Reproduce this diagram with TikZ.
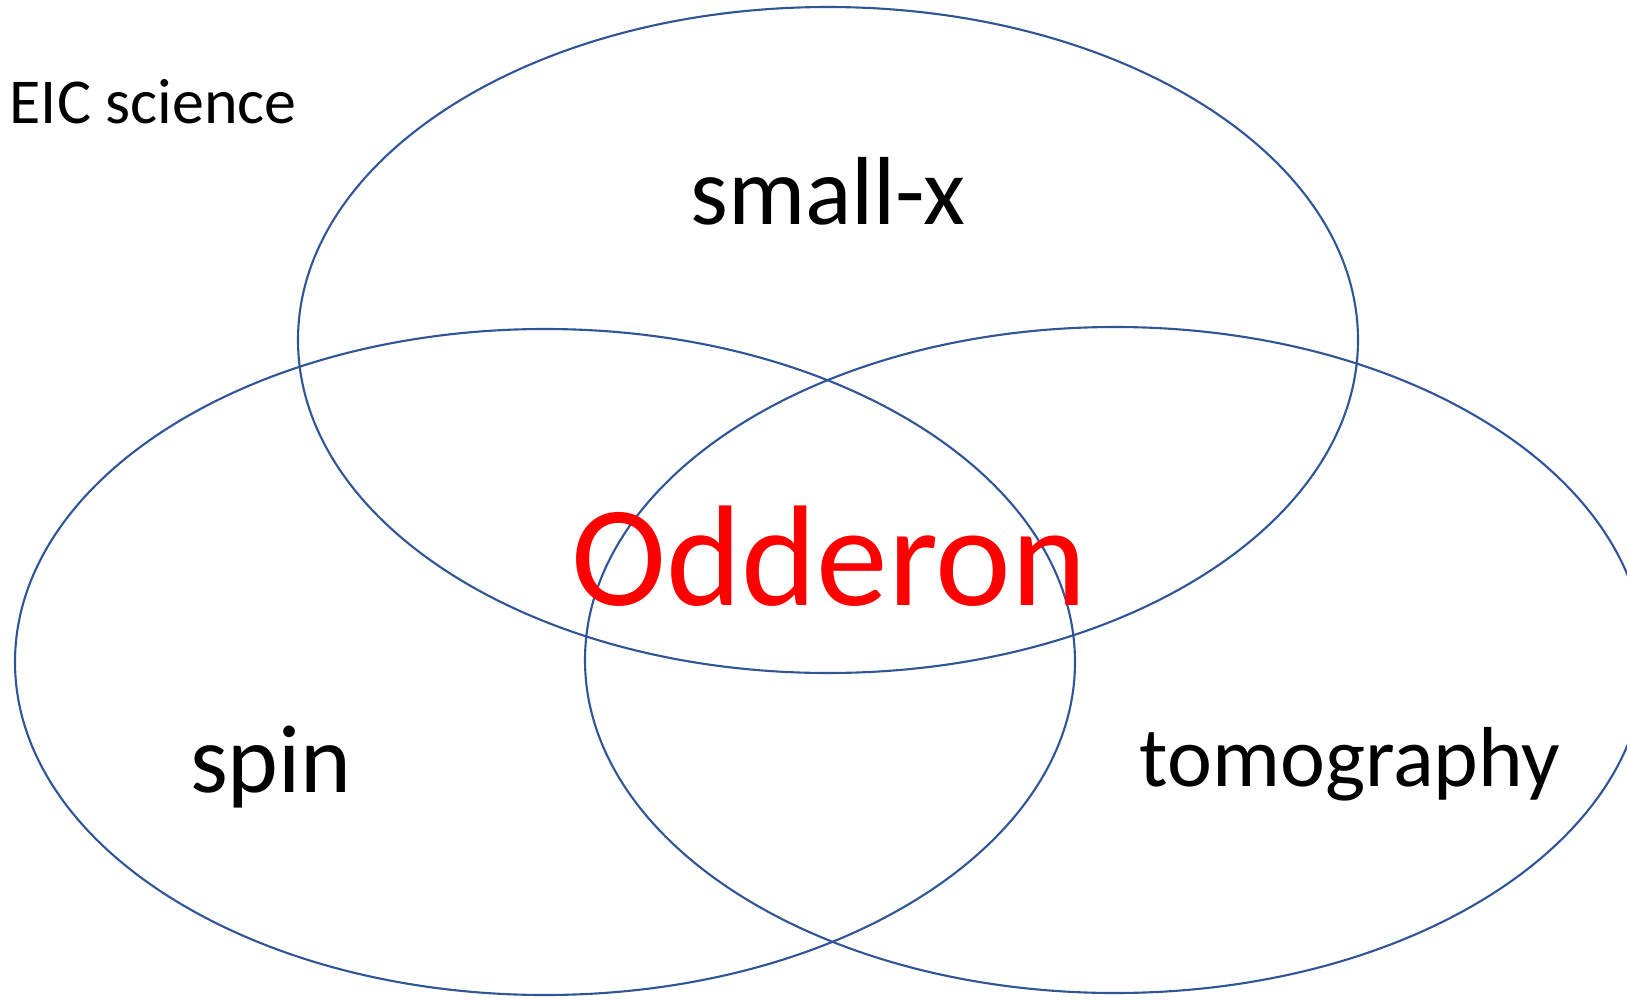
\documentclass[tikz,border=0pt]{standalone}
\usepackage{fontspec}
\setmainfont{Carlito}
\definecolor{venn}{HTML}{2F5597}
\tikzset{
    circulo/.style={draw=venn, line width=0.6pt},
    etiqueta/.style={anchor=base, inner sep=0pt, font=\fontsize{27.5}{32}\selectfont}
}
\begin{document}
\begin{tikzpicture}[x=0.01cm, y=-0.01cm]
        % Marco de la figura
        \useasboundingbox (0,0) rectangle (1627,1000);

        % Los tres conjuntos
        \draw[circulo] (828,340) ellipse [x radius=530, y radius=333];
        \draw[circulo] (545,662) ellipse [x radius=530, y radius=333];
        \draw[circulo] (1115,660) ellipse [x radius=530, y radius=333];

        % Etiquetas de cada conjunto
        \node[anchor=base west, inner sep=0pt, font=\fontsize{18.2}{21}\selectfont] (eic) at (9,123) {EIC science};
        \node[etiqueta] (smallx) at (828,224) {small-x};
        \node[etiqueta] (spin) at (271,792) {spin};
        \node[etiqueta, font=\fontsize{24.2}{28}\selectfont] (tomo) at (1350,786) {tomography};

        % Interseccion
        \node[etiqueta, text=red, font=\fontsize{40.8}{46}\selectfont] (odderon) at (829,605) {Odderon};
\end{tikzpicture}
\end{document}
